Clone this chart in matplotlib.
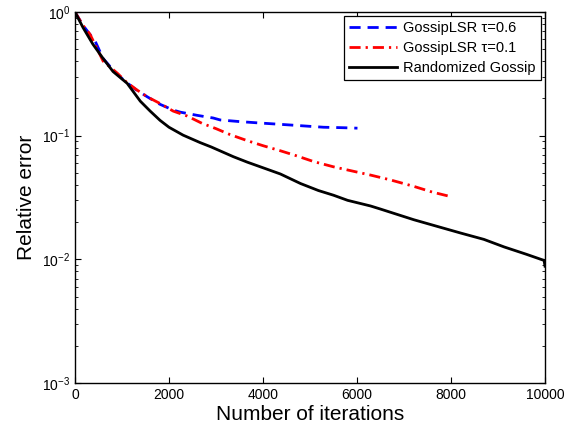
import matplotlib
matplotlib.use('Agg')
import matplotlib.pyplot as plt
from matplotlib.ticker import LogLocator, NullFormatter

plt.rcParams['font.family'] = ['Liberation Sans', 'DejaVu Sans']
plt.rcParams['mathtext.fontset'] = 'custom'
plt.rcParams['mathtext.rm'] = 'Liberation Sans'
plt.rcParams['mathtext.it'] = 'Liberation Sans'

# values
iters_lsr06 = [0, 170, 430, 600, 810, 1000, 1110, 1300, 1540, 1800, 2090, 2240,
               2600, 2940, 3090, 3500, 3880, 4300, 4580, 5000, 5290, 5700, 6010]
err_lsr06 = [1.0, 0.78, 0.58, 0.42, 0.34, 0.29, 0.267, 0.235, 0.206, 0.18, 0.161, 0.155,
             0.146, 0.139, 0.134, 0.13, 0.127, 0.124, 0.122, 0.119, 0.117, 0.116, 0.115]

iters_lsr01 = [0, 170, 320, 600, 900, 1100, 1320, 1550, 1810, 2090, 2390, 2700,
               3000, 3300, 3670, 4000, 4370, 4700, 5080, 5500, 5800, 6290, 6700,
               7200, 7600, 7930]
err_lsr01 = [1.0, 0.78, 0.66, 0.40, 0.32, 0.27, 0.234, 0.205, 0.182, 0.158, 0.144, 0.126,
             0.114, 0.102, 0.091, 0.083, 0.0755, 0.069, 0.0617, 0.056, 0.0528, 0.048, 0.044,
             0.039, 0.035, 0.0326]

iters_rg = [0, 170, 380, 600, 810, 1110, 1390, 1600, 1810, 2000, 2300, 2660, 2900,
            3370, 3670, 4090, 4370, 4800, 5180, 5500, 5800, 6290, 6500, 7210, 7700,
            8210, 8700, 9130, 9600, 9980, 10000]
err_rg = [1.0, 0.75, 0.55, 0.42, 0.33, 0.265, 0.19, 0.158, 0.133, 0.117, 0.101, 0.088, 0.081,
          0.0676, 0.061, 0.0535, 0.049, 0.041, 0.036, 0.0330, 0.030, 0.027, 0.0255, 0.0209,
          0.0185, 0.0163, 0.0145, 0.0126, 0.011, 0.0098, 0.0088]

fig = plt.figure(figsize=(5.79, 4.32), dpi=100)
ax = fig.add_axes([0.1295, 0.1134, 0.8118, 0.8588])

ax.plot(iters_lsr06, err_lsr06, color='#0000ff', ls=(0, (4, 2.5)), lw=2.0,
        label='GossipLSR τ=0.6')
ax.plot(iters_lsr01, err_lsr01, color='#ff0000', ls=(0, (4, 1.8, 0.8, 1.8)), lw=2.0,
        label='GossipLSR τ=0.1')
ax.plot(iters_rg, err_rg, color='black', ls='-', lw=2.0, label='Randomized Gossip')

ax.set_yscale('log')
ax.set_xlim(0, 10000)
ax.set_ylim(1e-3, 1)
ax.set_xticks([0, 2000, 4000, 6000, 8000, 10000])
ax.yaxis.set_major_locator(LogLocator(base=10, numticks=10))
ax.yaxis.set_minor_locator(LogLocator(base=10, subs=range(2, 10), numticks=20))
ax.yaxis.set_minor_formatter(NullFormatter())

ax.tick_params(which='both', direction='in', top=True, right=True, labelsize=10)
ax.tick_params(which='major', length=4, width=0.8)
ax.tick_params(which='minor', length=2, width=0.6)
for s in ax.spines.values():
    s.set_linewidth(1.0)

ax.set_xlabel('Number of iterations', fontsize=15, labelpad=2)
ax.set_ylabel('Relative error', fontsize=15, labelpad=4)

leg = ax.legend(loc='upper right', fontsize=10.5, frameon=True, fancybox=False,
                handlelength=3.3, borderpad=0.35, labelspacing=0.4,
                handletextpad=0.4, borderaxespad=0.3)
leg.get_frame().set_edgecolor('black')
leg.get_frame().set_linewidth(0.9)
leg.get_frame().set_alpha(1)

fig.savefig('out.png', dpi=100)
